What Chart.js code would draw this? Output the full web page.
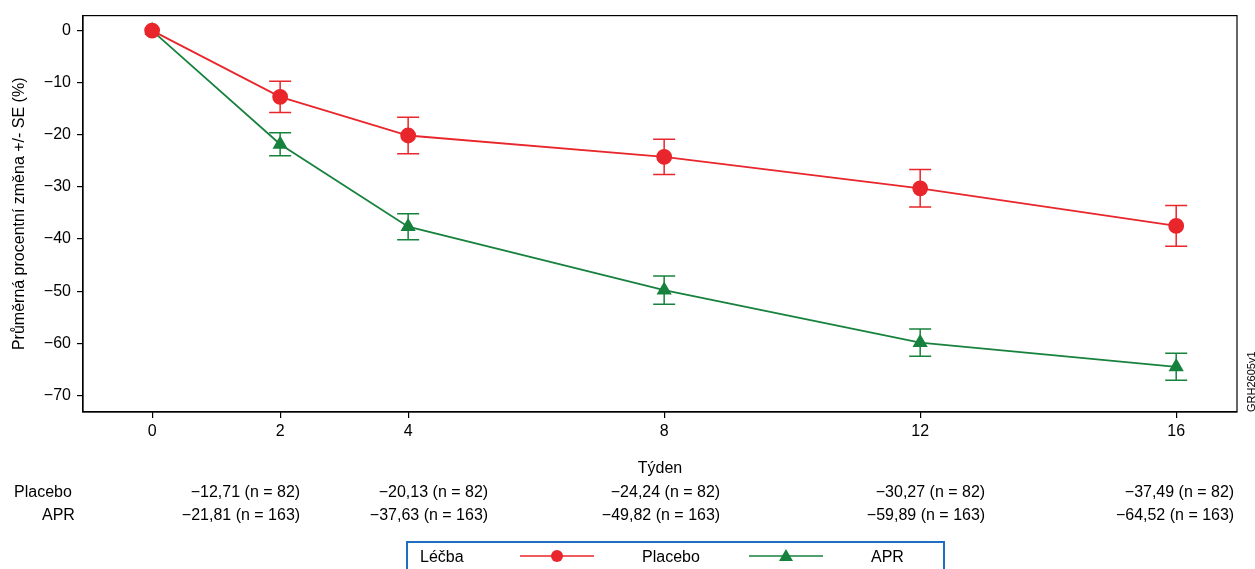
<!DOCTYPE html><html><head><meta charset="utf-8">
<script src="https://cdn.jsdelivr.net/npm/chart.js@4"></script>
<style>html,body{margin:0;padding:0;background:#fff}</style></head><body>
<div style="width:1255px;height:569px"><canvas id="c"></canvas></div>
<script>
const weeks=[0,2,4,8,12,16];
const placebo=[0,-12.71,-20.13,-24.24,-30.27,-37.49];
const placeboSE=[0,3.0,3.5,3.4,3.6,3.9];
const apr=[0,-21.81,-37.63,-49.82,-59.89,-64.52];
const aprSE=[0,2.2,2.5,2.7,2.6,2.6];
const placeboN=[82,82,82,82,82];
const aprN=[163,163,163,163,163];
const yTicks=[0,-10,-20,-30,-40,-50,-60,-70];
const RED='#e8262b',GREEN='#17823e';
const fmt=v=>'\u2212'+Math.abs(v).toFixed(2).replace('.',',');
const F='"Liberation Sans", Arial, sans-serif';
const colOff=[20,80,56,65,58];
const extra={id:'extra',afterDatasetsDraw(ch){
 const c=ch.ctx,x=ch.scales.x,y=ch.scales.y;
 c.save();c.lineWidth=1.5;
 [[placebo,placeboSE,RED],[apr,aprSE,GREEN]].forEach(([d,se,col])=>{
  c.strokeStyle=col;
  weeks.forEach((w,i)=>{if(!se[i])return;const px=x.getPixelForValue(w),t=y.getPixelForValue(d[i]+se[i]),b=y.getPixelForValue(d[i]-se[i]);
   c.beginPath();c.moveTo(px,t);c.lineTo(px,b);c.moveTo(px-11,t);c.lineTo(px+11,t);c.moveTo(px-11,b);c.lineTo(px+11,b);c.stroke();});
 });
 c.fillStyle='#000';c.font='16px '+F;c.textBaseline='middle';
 c.textAlign='left';c.fillText('Placebo',14,493);c.fillText('APR',42,516);
 c.textAlign='right';
 weeks.slice(1).forEach((w,i)=>{const px=x.getPixelForValue(w)+colOff[i];
  c.fillText(fmt(placebo[i+1])+' (n = '+placeboN[i]+')',px,493);
  c.fillText(fmt(apr[i+1])+' (n = '+aprN[i]+')',px,516);});
 c.strokeStyle='#1f6fc0';c.lineWidth=2;c.strokeRect(407,542,537,40);
 c.textAlign='left';c.fillText('Léčba',420,558);
 c.fillText('Placebo',642,558);c.fillText('APR',871,558);
 c.lineWidth=1.5;c.strokeStyle=RED;c.beginPath();c.moveTo(520,556);c.lineTo(594,556);c.stroke();
 c.fillStyle=RED;c.beginPath();c.arc(557,556,6,0,7);c.fill();
 c.strokeStyle=GREEN;c.beginPath();c.moveTo(749,556);c.lineTo(823,556);c.stroke();
 c.fillStyle=GREEN;c.beginPath();c.moveTo(786,549);c.lineTo(793,561);c.lineTo(779,561);c.fill();
 c.fillStyle='#000';c.font='11px '+F;c.translate(1252,412);c.rotate(-Math.PI/2);c.textAlign='left';c.fillText('GRH2605v1',0,0);
 c.restore();}};
const grid={display:true,drawOnChartArea:false,drawTicks:true,tickLength:6,color:'#000',lineWidth:1.2};
new Chart(document.getElementById('c'),{type:'line',
 data:{datasets:[
  {label:'Placebo',data:weeks.map((w,i)=>({x:w,y:placebo[i]})),borderColor:RED,backgroundColor:RED,pointStyle:'circle',pointRadius:7,borderWidth:1.8},
  {label:'APR',data:weeks.map((w,i)=>({x:w,y:apr[i]})),borderColor:GREEN,backgroundColor:GREEN,pointStyle:'triangle',pointRadius:7,borderWidth:1.8}]},
 options:{responsive:true,maintainAspectRatio:false,animation:false,
  layout:{padding:{top:9,right:18,bottom:87,left:10}},
  plugins:{legend:{display:false},tooltip:{enabled:false}},
  scales:{
   x:{type:'linear',min:-1.08,max:16.95,afterBuildTicks:s=>{s.ticks=weeks.map(v=>({value:v}))},
    afterFit:s=>{s.height=70},
    grid:grid,border:{color:'#000',width:1.2},
    ticks:{color:'#000',font:{size:16,family:F},padding:4},
    title:{display:true,text:'Týden',color:'#000',font:{size:16,family:F},padding:{top:6}}},
   y:{min:-73.2,max:2.88,afterBuildTicks:s=>{s.ticks=yTicks.map(v=>({value:v}))},
    afterFit:s=>{s.width=73},
    grid:grid,border:{color:'#000',width:1.2},
    ticks:{color:'#000',font:{size:16,family:F},padding:6,callback:v=>v<0?'\u2212'+Math.abs(v):v},
    title:{display:true,text:'Průměrná procentní změna +/- SE (%)',color:'#000',font:{size:16,family:F},padding:0}}}},
 plugins:[extra,{id:'box',afterDraw(ch){const a=ch.chartArea,c=ch.ctx;c.save();c.strokeStyle='#000';c.lineWidth=1.2;c.strokeRect(a.left,a.top,a.right-a.left,a.bottom-a.top);c.restore();}}]});
</script></body></html>
